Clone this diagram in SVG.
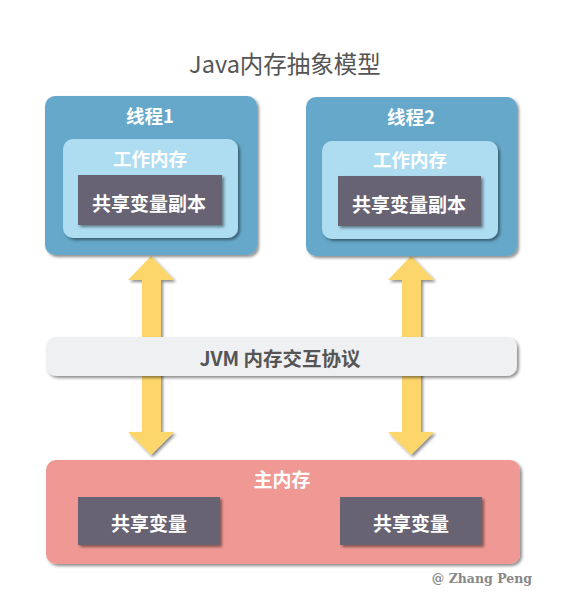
<svg xmlns="http://www.w3.org/2000/svg" width="566" height="610" viewBox="0 0 566 610">
<defs>
<filter id="sh" x="-10%" y="-10%" width="125%" height="130%">
<feDropShadow dx="2" dy="2" stdDeviation="1.5" flood-color="#000" flood-opacity="0.45"/>
</filter>
<style>
.t{font-family:"Noto Sans CJK SC","Noto Sans",sans-serif;font-weight:bold;fill:#fff;text-anchor:middle;dominant-baseline:central}
.thread{fill:#66a8c9}
.work{fill:#aedcf0}
.var{fill:#676472}
.arrow{fill:#fcd66a}
</style>
</defs>
<rect width="566" height="610" fill="#fff"/>
<text x="285" y="63" font-family="'Noto Sans CJK SC','Noto Sans',sans-serif" font-size="23.5" fill="#555" text-anchor="middle" dominant-baseline="central">Java内存抽象模型</text>
<g id="connectors">
<path class="arrow" filter="url(#sh)" d="M151,256 L128,280 L142,280 L142,432 L128,432 L151,455 L174,432 L161,432 L161,280 L174,280 Z"/>
<path class="arrow" filter="url(#sh)" d="M411,256 L388,280 L402,280 L402,432 L388,432 L411,455 L434,432 L421,432 L421,280 L434,280 Z"/>
</g>
<g id="thread1">
<rect class="thread" x="45" y="96" width="212" height="159" rx="10" filter="url(#sh)"/>
<text class="t" x="150" y="115" font-size="18.5">线程1</text>
<rect class="work" x="63" y="139" width="175" height="99" rx="10" filter="url(#sh)"/>
<text class="t" x="150" y="158" font-size="18.5">工作内存</text>
<rect class="var" x="78" y="175" width="144" height="50" filter="url(#sh)"/>
<text class="t" x="149" y="202" font-size="19">共享变量副本</text>
</g>
<g id="thread2">
<rect class="thread" x="306" y="97" width="211" height="159" rx="10" filter="url(#sh)"/>
<text class="t" x="411" y="116" font-size="18.5">线程2</text>
<rect class="work" x="322" y="141" width="176" height="98" rx="10" filter="url(#sh)"/>
<text class="t" x="410" y="159" font-size="18.5">工作内存</text>
<rect class="var" x="338" y="176" width="143" height="50" filter="url(#sh)"/>
<text class="t" x="409" y="203" font-size="19">共享变量副本</text>
</g>
<g id="jvm">
<rect x="46" y="337" width="471" height="39" rx="10" fill="#eff0f2" filter="url(#sh)"/>
<text class="t" x="280" y="357" font-size="19.5" style="fill:#555">JVM 内存交互协议</text>
</g>
<g id="main">
<rect x="46" y="460" width="474" height="104" rx="10" fill="#f09994" filter="url(#sh)"/>
<text class="t" x="282" y="478" font-size="19">主内存</text>
<g id="var1">
<rect class="var" x="78" y="497" width="142" height="48" filter="url(#sh)"/>
<text class="t" x="149" y="522" font-size="19">共享变量</text>
</g>
<g id="var2">
<rect class="var" x="340" y="497" width="142" height="48" filter="url(#sh)"/>
<text class="t" x="411" y="522" font-size="19">共享变量</text>
</g>
</g>
<text x="532" y="578" font-family="'DejaVu Serif',serif" font-weight="bold" font-size="12.5" fill="#888" text-anchor="end" dominant-baseline="central">@ Zhang Peng</text>
</svg>
